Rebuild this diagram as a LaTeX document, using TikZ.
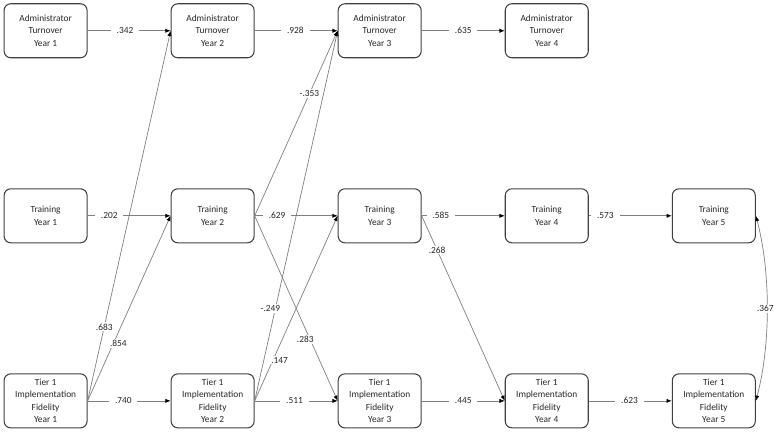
\documentclass[tikz,border=0pt]{standalone}
\usepackage{fontspec}
\setmainfont{Carlito}
\usepackage{tikz}
\usetikzlibrary{matrix}
\usetikzlibrary{shapes, positioning}
\usetikzlibrary{arrows.meta}

\begin{document}
\begin{tikzpicture}
			\tikzset{
				varbox/.style={draw=black!75, line width=0.9pt, rounded corners=0.2cm, minimum width=2.49cm, minimum height=1.62cm, align=center, inner sep=1pt, text=black!85, font=\fontsize{8}{10.6}\selectfont},
				coef/.style={fill=white, inner xsep=5pt, inner ysep=1pt, text=black!85, font=\fontsize{8}{9}\selectfont},
				arr/.style={draw=black!50, line width=0.6pt, >={Latex[color=black, length=4.5pt, width=3.6pt]}, ->}
			}
			\useasboundingbox (0,0) rectangle (23.34,-13.02);
			\matrix [column sep=2.49cm, row sep=3.9cm, inner sep=0pt, anchor=north west] (m) at (0.1,-0.09) {
				\node[varbox] (adm1) {Administrator\\Turnover\\Year 1}; & \node[varbox] (adm2) {Administrator\\Turnover\\Year 2}; & \node[varbox] (adm3) {Administrator\\Turnover\\Year 3}; & \node[varbox] (adm4) {Administrator\\Turnover\\Year 4}; & \\
				\node[varbox] (trn1) {Training\\Year 1}; & \node[varbox] (trn2) {Training\\Year 2}; & \node[varbox] (trn3) {Training\\Year 3}; & \node[varbox] (trn4) {Training\\Year 4}; & \node[varbox] (trn5) {Training\\Year 5}; \\
				\node[varbox] (fid1) {Tier 1\\Implementation\\Fidelity\\Year 1}; & \node[varbox] (fid2) {Tier 1\\Implementation\\Fidelity\\Year 2}; & \node[varbox] (fid3) {Tier 1\\Implementation\\Fidelity\\Year 3}; & \node[varbox] (fid4) {Tier 1\\Implementation\\Fidelity\\Year 4}; & \node[varbox] (fid5) {Tier 1\\Implementation\\Fidelity\\Year 5}; \\
			};
			\draw[arr] (adm1.east) -- node[coef, pos=.45] {.342} (adm2.west);
			\draw[arr] (adm2.east) -- node[coef, pos=.49] {.928} (adm3.west);
			\draw[arr] (adm3.east) -- node[coef, pos=.5] {.635} (adm4.west);
			\draw[arr] (trn1.east) -- node[coef, pos=.26] {.202} (trn2.west);
			\draw[arr] (trn2.east) -- node[coef, pos=.27] {.629} (trn3.west);
			\draw[arr] (trn3.east) -- node[coef, pos=.23] {.585} (trn4.west);
			\draw[arr] (trn4.east) -- node[coef, pos=.2] {.573} (trn5.west);
			\draw[arr] (fid1.east) -- node[coef, pos=.43] {.740} (fid2.west);
			\draw[arr] (fid2.east) -- node[coef, pos=.48] {.511} (fid3.west);
			\draw[arr] (fid3.east) -- node[coef, pos=.5] {.445} (fid4.west);
			\draw[arr] (fid4.east) -- node[coef, pos=.49] {.623} (fid5.west);
			\draw[arr] (fid1.east) -- node[coef, pos=.2] {.683} (adm2.west);
			\draw[arr] (fid1.east) -- node[coef, pos=.31, xshift=0.15cm] {.854} (trn2.west);
			\draw[arr] (trn2.east) -- node[coef, pos=.66] {-.353} (adm3.west);
			\draw[arr] (fid2.east) -- node[coef, pos=.25, xshift=-0.15cm] {-.249} (adm3.west);
			\draw[arr] (fid2.east) -- node[coef, pos=.22, xshift=0.2cm] {.147} (trn3.west);
			\draw[arr] (trn2.east) -- node[coef, pos=.67, xshift=-0.15cm] {.283} (fid3.west);
			\draw[arr] (trn3.east) -- node[coef, pos=.185] {.268} (fid4.west);
			\draw[arr, <->] (trn5.east) to[out=-75, in=75, looseness=0.8] node[coef, inner xsep=1pt, xshift=-0.05cm] {.367} (fid5.east);
		\end{tikzpicture}
\end{document}
